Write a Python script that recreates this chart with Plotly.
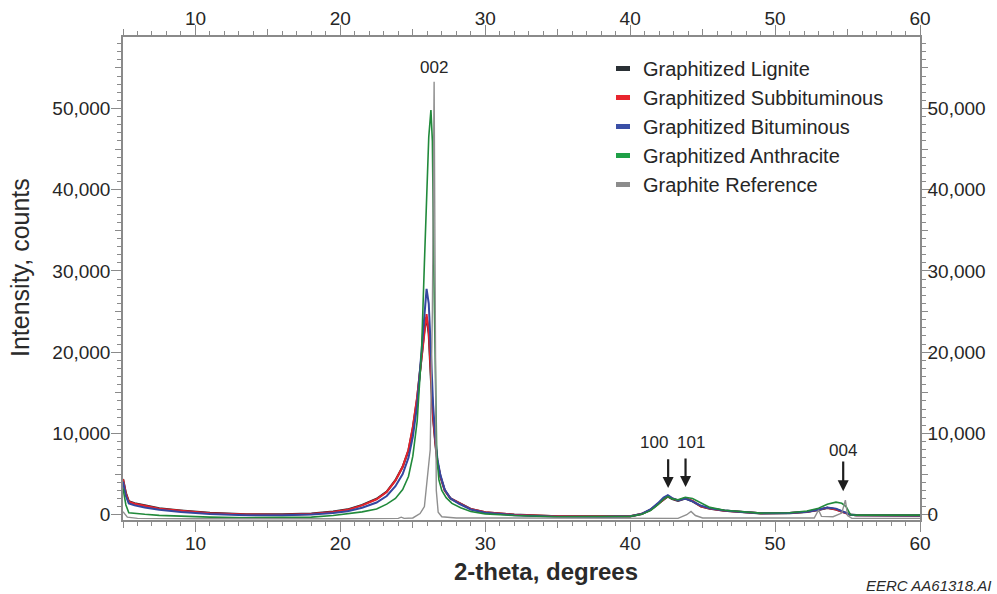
import plotly.graph_objects as go

# ---------------- data ----------------
two_theta = [5.0, 5.2, 5.4, 5.8, 6.5, 7.5, 9, 11, 13.5, 16, 18, 19.5, 20.5, 21.5, 22.5,
             23.2, 23.8, 24.3, 24.7, 25.0, 25.3, 25.6, 25.8, 25.95, 26.1, 26.25, 26.4,
             26.55, 26.7, 26.9, 27.2, 27.6, 28.2, 29, 30, 32, 35, 38, 40, 40.8, 41.4,
             41.9, 42.3, 42.6, 42.9, 43.3, 43.8, 44.3, 44.9, 45.5, 46.5, 47.5, 49, 51,
             52.2, 53, 53.6, 54.2, 54.6, 54.9, 55.2, 55.6, 57, 60]

lignite = [4400, 2650, 1650, 1400, 1150, 800, 520, 220, 60, 40, 130, 380, 650, 1200, 1950,
           2850, 4250, 5900, 7900, 10600, 14300, 19300, 22800, 24300, 22300, 16800, 11900,
           8900, 6400, 4700, 3000, 2000, 1400, 700, 300, 0, -200, -250, -200, 100, 600,
           1300, 1900, 2250, 1950, 1700, 2000, 1650, 1000, 750, 500, 350, 170, 200,
           350, 600, 830, 650, 400, 200, 0, -50, -80, -100]

subbituminous = [4360, 2600, 1600, 1350, 1100, 750, 480, 180, 20, 0, 90, 330, 600, 1150, 1900,
                 2800, 4200, 5900, 8000, 10800, 14500, 19500, 23000, 24700, 22500, 17000, 12000,
                 9000, 6500, 4800, 3000, 2000, 1400, 700, 300, 0, -200, -250, -200, 100, 600,
                 1300, 1900, 2300, 2000, 1750, 2050, 1700, 1000, 750, 500, 350, 170, 200,
                 350, 600, 850, 650, 400, 200, 0, -50, -80, -100]

bituminous = [4060, 2300, 1400, 1150, 900, 600, 330, 80, -50, -60, 30, 200, 420, 850, 1500,
              2300, 3500, 5000, 7000, 9600, 13500, 19500, 24500, 27800, 26000, 20000, 13500,
              9500, 6800, 4900, 3100, 2000, 1350, 650, 250, -50, -250, -250, -200, 100, 650,
              1400, 2100, 2400, 2050, 1750, 2000, 1650, 1100, 800, 520, 370, 180, 200,
              350, 600, 880, 750, 450, 200, 0, -50, -80, -100]

two_theta_anthracite = [5.0, 5.2, 5.4, 5.8, 6.5, 7.5, 9, 11, 13.5, 16, 18, 19.5, 20.5, 21.5,
                        22.5, 23.2, 23.8, 24.3, 24.7, 25.0, 25.3, 25.6, 25.8, 25.95, 26.1,
                        26.25, 26.35, 26.45, 26.55, 26.65, 26.8, 27.0, 27.3, 27.7, 28.3, 29,
                        30, 32, 35, 38, 40, 40.8, 41.4, 41.9, 42.3, 42.6, 42.9, 43.3, 43.8,
                        44.3, 44.9, 45.5, 46.5, 47.5, 49, 51, 52.2, 53, 53.6, 54.2, 54.6,
                        54.9, 55.2, 55.6, 57, 60]
anthracite = [3250, 1200, 250, 150, 50, -80, -200, -300, -370, -370, -300, -100, 100, 350,
              700, 1300, 2000, 3100, 4700, 7200, 11500, 20000, 31000, 39000, 46500,
              49800, 46000, 30000, 15000, 7500, 4300, 3000, 2100, 1400, 850, 400,
              100, -100, -250, -250, -200, 50, 500, 1200, 1900, 2250, 1950, 1850, 2150,
              2000, 1400, 900, 550, 380, 200, 250, 450, 800, 1300, 1550, 1400,
              1000, 0, -50, -50, -50]

two_theta_reference = [5.0, 5.3, 6, 10, 20, 24.0, 24.2, 24.4, 25.0, 25.5, 25.8, 25.95, 26.2,
                       26.35, 26.47, 26.55, 26.62, 26.75, 27.0, 28, 35, 43.3, 43.9, 44.2,
                       44.5, 45, 52.7, 53.0, 53.2, 54.0, 54.6, 54.85, 55.0, 55.3, 60]
graphite_reference = [370, -300, -450, -500, -500, -450, -300, -450, -400, 150, 1000, 4000,
                      8000, 25000, 53300, 25000, 3000, 300, -250, -400, -450, -450, 0, 400,
                      -100, -400, -400, 580, -200, -250, 200, 1800, -100, -450, -450]

series_names = ["Graphitized Lignite", "Graphitized Subbituminous", "Graphitized Bituminous",
                "Graphitized Anthracite", "Graphite Reference"]
peak_labels = ["002", "100", "101", "004"]
peak_label_x = [26.44, 41.65, 44.2, 54.72]
peak_label_y = [55000, 8830, 8830, 7950]
arrow_x = [42.62, 43.82, 54.7]
arrow_head_y = [3300, 3400, 2900]
arrow_tail_y = [7000, 7100, 6750]

x_ticks = [10, 20, 30, 40, 50, 60]
y_ticks = [0, 10000, 20000, 30000, 40000, 50000]

# ---------------- styles ----------------
line_colors = ["#262b30", "#e4222b", "#3447a0", "#218a3b", "#8f8f8f"]
legend_colors = ["#2a3035", "#e8252e", "#3a4fa6", "#1fa047", "#8c8c8c"]
line_widths = [2.2, 2.0, 2.0, 1.6, 1.4]
FONT = "Liberation Sans, Arial, Helvetica, sans-serif"
TXT = "#262626"
AX = "#8a8a8a"

W, H = 997, 594
L, R, T, B = 123, 77, 37, 74
PW, PH = W - L - R, H - T - B


def px_x(p):
    return (p - L) / PW


def px_y(p):
    return (H - B - p) / PH


fig = go.Figure()

xs = [two_theta, two_theta, two_theta, two_theta_anthracite, two_theta_reference]
ys = [lignite, subbituminous, bituminous, anthracite, graphite_reference]
for i in range(5):
    fig.add_trace(go.Scatter(x=xs[i], y=ys[i], mode="lines", showlegend=False,
                             line=dict(color=line_colors[i], width=line_widths[i]),
                             name=series_names[i]))
# legend swatches
for i in range(5):
    fig.add_trace(go.Scatter(x=[None], y=[None], mode="markers", name=series_names[i],
                             marker=dict(symbol="line-ew", size=10,
                                         line=dict(color=legend_colors[i], width=5))))

XR = [5, 60]
YR = [-650, 58800]


def xax(**kw):
    d = dict(range=XR, showgrid=False, zeroline=False, showline=True, linecolor=AX,
             linewidth=1.5, ticks="outside", tickcolor=AX, tickwidth=1.2, ticklen=10,
             tickvals=x_ticks, tickfont=dict(family=FONT, size=19, color=TXT),
             automargin=False,
             minor=dict(dtick=1, tick0=0, ticklen=4, tickcolor=AX, tickwidth=1, ticks="outside"))
    d.update(kw)
    return d


def yax(**kw):
    d = dict(range=YR, showgrid=False, zeroline=False, showline=True, linecolor=AX,
             linewidth=1.5, ticks="outside", tickcolor=AX, tickwidth=1.2, ticklen=10,
             tickvals=y_ticks, tickformat=",", tickfont=dict(family=FONT, size=19, color=TXT),
             automargin=False,
             minor=dict(dtick=1000, tick0=0, ticklen=4, tickcolor=AX, tickwidth=1, ticks="outside"))
    d.update(kw)
    return d


fig.update_layout(
    width=W, height=H,
    margin=dict(l=L, r=R, t=T, b=B, autoexpand=False),
    paper_bgcolor="white", plot_bgcolor="white",
    xaxis=xax(ticklabelstandoff=-5),
    xaxis2=xax(overlaying="x", side="top", ticklabelstandoff=-7),
    xaxis3=xax(overlaying="x", side="bottom", showline=False, tickvals=None, dtick=5, tick0=0,
               ticklen=7, showticklabels=False, minor=None),
    xaxis4=xax(overlaying="x", side="top", showline=False, tickvals=None, dtick=5, tick0=0,
               ticklen=7, showticklabels=False, minor=None),
    yaxis=yax(ticklabelstandoff=-3),
    yaxis2=yax(overlaying="y", side="right", ticklabelstandoff=-8),
    yaxis3=yax(overlaying="y", side="left", showline=False, tickvals=None, dtick=5000, tick0=0,
               ticklen=7, showticklabels=False, minor=None),
    yaxis4=yax(overlaying="y", side="right", showline=False, tickvals=None, dtick=5000, tick0=0,
               ticklen=7, showticklabels=False, minor=None),
    legend=dict(x=px_x(603), y=px_y(49), xanchor="left", yanchor="top",
                bgcolor="rgba(0,0,0,0)",
                font=dict(family=FONT, size=20, color=TXT), itemwidth=30, tracegroupgap=0),
    font=dict(family=FONT, color=TXT),
)

# invisible traces to activate the helper axes
for xa, ya in [("x2", "y2"), ("x3", "y3"), ("x4", "y4")]:
    fig.add_trace(go.Scatter(x=[None], y=[None], xaxis=xa, yaxis=ya, showlegend=False,
                             hoverinfo="skip"))

for t, lx, ly in zip(peak_labels, peak_label_x, peak_label_y):
    fig.add_annotation(x=lx, y=ly, xref="x", yref="y", text=t, showarrow=False,
                       font=dict(family=FONT, size=17, color=TXT))
for ax_, hy, ty in zip(arrow_x, arrow_head_y, arrow_tail_y):
    fig.add_annotation(x=ax_, y=hy, xref="x", yref="y", ax=ax_, ay=ty, axref="x", ayref="y",
                       text="", showarrow=True, arrowhead=2, arrowsize=1, arrowwidth=2.2,
                       arrowcolor="#1e1e1e")

fig.add_annotation(x=px_x(546), y=px_y(571), xref="paper", yref="paper",
                   text="<b>2-theta, degrees</b>", showarrow=False,
                   xanchor="center", yanchor="middle",
                   font=dict(family=FONT, size=24, color="#2a2a2a"))
fig.add_annotation(x=px_x(20), y=px_y(267), xref="paper", yref="paper",
                   text="Intensity, counts", textangle=-90, showarrow=False,
                   xanchor="center", yanchor="middle",
                   font=dict(family=FONT, size=25, color="#2a2a2a"))
fig.add_annotation(x=px_x(993), y=px_y(585), xref="paper", yref="paper",
                   text="<i>EERC AA61318.AI</i>", showarrow=False,
                   xanchor="right", yanchor="middle",
                   font=dict(family=FONT, size=15, color="#2a2a2a"))

fig.write_html("out.html", config={"displayModeBar": False},
               post_script="document.body.style.margin='0px';")
